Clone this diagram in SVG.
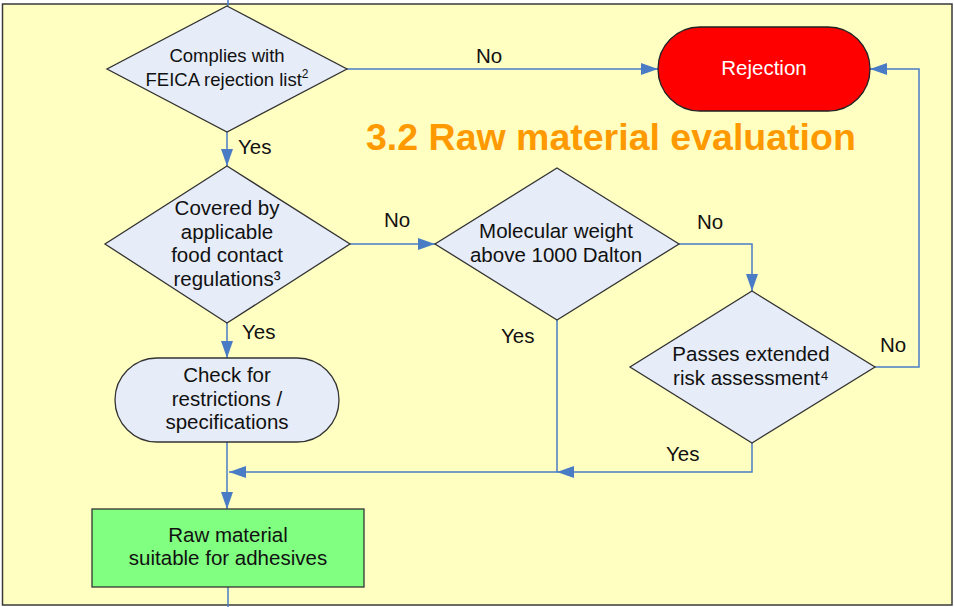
<svg xmlns="http://www.w3.org/2000/svg" width="954" height="607" viewBox="0 0 954 607">
<style>
.bg{fill:#FFFFC2;stroke:#3a3a3a;stroke-width:1.5}
.dia{fill:#E6ECF8;stroke:#333;stroke-width:1.3}
.t{font-family:"Liberation Sans",Arial,sans-serif;font-size:20.5px;fill:#111;text-anchor:middle}
.s{font-size:18.5px}
.lbl{font-family:"Liberation Sans",Arial,sans-serif;font-size:20.5px;fill:#111}
.c{fill:none;stroke:#4A7CC6;stroke-width:1.5}
</style>
<defs>
<marker id="ah" markerUnits="userSpaceOnUse" markerWidth="18" markerHeight="13" refX="17" refY="6" orient="auto">
<path d="M0,0 L17,6 L0,12 z" fill="#4A7CC6"/>
</marker>
</defs>
<rect x="0" y="0" width="954" height="607" fill="#ffffff"/>
<rect class="bg" x="2.5" y="4" width="949.5" height="601"/>
<text x="366" y="150" font-family="'Liberation Sans',Arial,sans-serif" font-size="37.5" font-weight="bold" fill="#FF9900">3.2 Raw material evaluation</text>
<g id="connectors">
<path class="c" d="M228,0 V6"/>
<path class="c" d="M227,132 V166" marker-end="url(#ah)"/>
<path class="c" d="M347,69 H658" marker-end="url(#ah)"/>
<path class="c" d="M350,244 H435" marker-end="url(#ah)"/>
<path class="c" d="M679,244 H752 V291" marker-end="url(#ah)"/>
<path class="c" d="M875,367 H919 V69 H870" marker-end="url(#ah)"/>
<path class="c" d="M227,323 V358" marker-end="url(#ah)"/>
<path class="c" d="M227,442 V509" marker-end="url(#ah)"/>
<path class="c" d="M557,320 V472 H229" marker-end="url(#ah)"/>
<path class="c" d="M752,443 V472 H557" marker-end="url(#ah)"/>
<path class="c" d="M228,587 V607"/>
<text class="lbl" x="476" y="63">No</text>
<text class="lbl" x="238" y="154">Yes</text>
<text class="lbl" x="384" y="227">No</text>
<text class="lbl" x="697" y="229">No</text>
<text class="lbl" x="501" y="343">Yes</text>
<text class="lbl" x="880" y="352">No</text>
<text class="lbl" x="666" y="461">Yes</text>
<text class="lbl" x="242" y="339">Yes</text>
</g>
<g id="rejection">
<rect x="658" y="27" width="212" height="84" rx="42" fill="#FF0000" stroke="#222" stroke-width="1.3"/>
<text class="t" x="764" y="75" style="fill:#fff">Rejection</text>
</g>
<g id="feica">
<polygon class="dia" points="227,6 347,69 227,132 107,69"/>
<text class="t s" x="227" y="62">Complies with</text>
<text class="t s" x="227" y="86">FEICA rejection list<tspan font-size="12" dy="-8">2</tspan></text>
</g>
<g id="covered">
<polygon class="dia" points="227,166 350,244 227,323 105,244"/>
<text class="t" x="227" y="215">Covered by</text>
<text class="t" x="227" y="238.5">applicable</text>
<text class="t" x="227" y="262">food contact</text>
<text class="t" x="227" y="285.5">regulations³</text>
</g>
<g id="molecular">
<polygon class="dia" points="557,168 679,244 557,320 435,244"/>
<text class="t" x="556" y="238">Molecular weight</text>
<text class="t" x="556" y="262">above 1000 Dalton</text>
</g>
<g id="risk">
<polygon class="dia" points="752,291 875,367 752,443 630,367"/>
<text class="t" x="751" y="361">Passes extended</text>
<text class="t" x="751" y="385">risk assessment⁴</text>
</g>
<g id="check">
<rect x="115" y="358" width="224" height="84" rx="42" fill="#E6ECF8" stroke="#333" stroke-width="1.3"/>
<text class="t" x="227" y="382">Check for</text>
<text class="t" x="227" y="406">restrictions /</text>
<text class="t" x="227" y="429">specifications</text>
</g>
<g id="suitable">
<rect x="92" y="509" width="272" height="78" fill="#80FF80" stroke="#333" stroke-width="1.3"/>
<text class="t" x="228" y="541.5">Raw material</text>
<text class="t" x="228" y="565">suitable for adhesives</text>
</g>
</svg>
